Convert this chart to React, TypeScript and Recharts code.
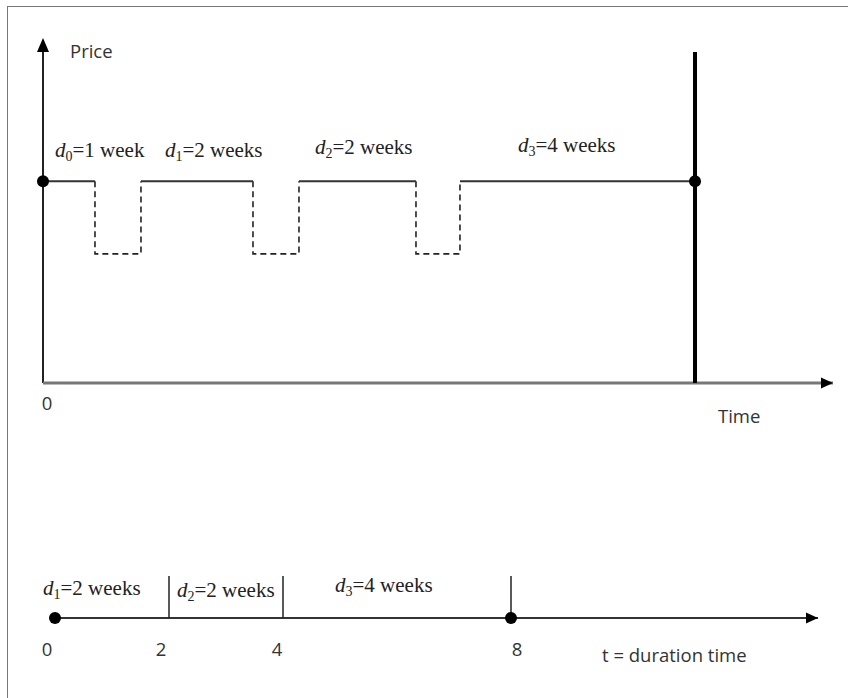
import React from 'react';
import { LineChart, Line, XAxis, YAxis, ReferenceLine, ReferenceDot } from 'recharts';

// ---------- Top panel: price path over time (weeks) ----------
const priceHigh = 100;
const priceLow = 64;
const priceAxisTop = 170;
const exitLineTop = 164;
const timeAxisEnd = 13.74;
const exitTime = 11.34;
// solid (high-price) periods: start / end in weeks
const periodStart = [0, 1.704, 4.452, 7.252];
const periodEnd = [0.904, 3.652, 6.487, exitTime];
const periodSub = ['0', '1', '2', '3'];
const periodText = ['=1 week', '=2 weeks', '=2 weeks', '=4 weeks'];

// ---------- Bottom panel: duration time ----------
const durTicks = [0, 2, 4, 8];
const durMarks = [2, 4, 8];
const durStart = [0, 2, 4];
const durSub = ['1', '2', '3'];
const durText = ['=2 weeks', '=2 weeks', '=4 weeks'];
const durAxisEnd = 13.386;

// build series from the arrays
const solidData: { t: number; p: number | null }[] = [];
periodStart.forEach((s, i) => {
  solidData.push({ t: s, p: priceHigh });
  solidData.push({ t: periodEnd[i], p: priceHigh });
  if (i < periodStart.length - 1) solidData.push({ t: (periodEnd[i] + periodStart[i + 1]) / 2, p: null });
});
const dashedData: { t: number; p: number | null }[] = [];
for (let i = 0; i < periodStart.length - 1; i++) {
  dashedData.push({ t: periodEnd[i], p: priceHigh });
  dashedData.push({ t: periodEnd[i], p: priceLow });
  dashedData.push({ t: periodStart[i + 1], p: priceLow });
  dashedData.push({ t: periodStart[i + 1], p: priceHigh });
  if (i < periodStart.length - 2) dashedData.push({ t: (periodStart[i + 1] + periodEnd[i + 1]) / 2, p: null });
}

// styles
const SERIF = '"Liberation Serif", "Times New Roman", serif';
const SANS = '"Open Sans", "Noto Sans", sans-serif';
const SANS_SIZE = 18.5;
const topLabelOffsets = [
  { dx: 12, dy: -24 },
  { dx: 24, dy: -24 },
  { dx: 16, dy: -27 },
  { dx: 58, dy: -29 },
];
const bottomLabelOffsets = [
  { dx: -12, dy: -23 },
  { dx: 8, dy: -21 },
  { dx: 52, dy: -26 },
];
const durTickDx: Record<number, number> = { 0: -8, 2: -8, 4: -6, 8: 6 };

const SubLabel = (cx: number, cy: number, sub: string, text: string) => (
  <text x={cx} y={cy} fontFamily={SERIF} fontSize={21} fill="#222">
    <tspan fontStyle="italic">d</tspan>
    <tspan fontSize={14} dy={4}>{sub}</tspan>
    <tspan dy={-4}>{text}</tspan>
  </text>
);

const UpArrow = (p: any) => (
  <polygon points={`${p.cx},${p.cy - 2} ${p.cx - 6},${p.cy + 12} ${p.cx + 6},${p.cy + 12}`} fill="#000" />
);
const RightArrow = (p: any) => (
  <polygon points={`${p.cx},${p.cy} ${p.cx - 12},${p.cy - 5.5} ${p.cx - 12},${p.cy + 5.5}`} fill="#000" />
);

export default function App() {
  return (
    <div style={{ position: 'absolute', left: 0, top: 0, width: 848, height: 698, overflow: 'hidden', background: '#fff' }}>
      <div style={{ position: 'absolute', left: 7, top: 6, width: 900, height: 800, border: '1px solid #777', boxSizing: 'border-box' }} />
      {/* top panel */}
      <div style={{ position: 'absolute', left: 0, top: 0 }}>
        <LineChart width={848} height={440} margin={{ top: 40, left: 43, right: 15, bottom: 27 }}>
          <XAxis
            type="number"
            dataKey="t"
            domain={[0, timeAxisEnd]}
            ticks={[0]}
            axisLine={false}
            tickLine={false}
            tickSize={0}
            tickMargin={0}
            height={30}
            allowDataOverflow
            tick={(p: any) => (
              <text x={p.x + 4} y={p.y + 27} textAnchor="middle" fontFamily={SANS} fontSize={SANS_SIZE} fill="#333">
                {p.payload.value}
              </text>
            )}
          />
          <YAxis type="number" domain={[0, priceAxisTop]} hide allowDataOverflow />
          {/* axes */}
          <ReferenceLine segment={[{ x: 0, y: 0 }, { x: 0, y: priceAxisTop }]} stroke="#222" strokeWidth={2} ifOverflow="visible" />
          <ReferenceLine segment={[{ x: 0, y: 0 }, { x: timeAxisEnd, y: 0 }]} stroke="#777" strokeWidth={3} ifOverflow="visible" />
          <ReferenceDot x={0} y={priceAxisTop} r={0} ifOverflow="visible" shape={UpArrow} />
          <ReferenceDot x={timeAxisEnd} y={0} r={0} ifOverflow="visible" shape={RightArrow} />
          {/* exit line */}
          <ReferenceLine segment={[{ x: exitTime, y: 0 }, { x: exitTime, y: exitLineTop }]} stroke="#000" strokeWidth={4} ifOverflow="visible" />
          <Line data={dashedData} dataKey="p" type="linear" stroke="#222" strokeWidth={1.6} strokeDasharray="6 4" dot={false} activeDot={false} connectNulls={false} isAnimationActive={false} />
          <Line data={solidData} dataKey="p" type="linear" stroke="#333" strokeWidth={2} dot={false} activeDot={false} connectNulls={false} isAnimationActive={false} />
          <ReferenceDot x={0} y={priceHigh} r={6} fill="#000" stroke="none" ifOverflow="visible" />
          <ReferenceDot x={exitTime} y={priceHigh} r={6} fill="#000" stroke="none" ifOverflow="visible" />
          {periodStart.map((s, i) => (
            <ReferenceDot
              key={'pl' + i}
              x={s}
              y={priceHigh}
              r={0}
              ifOverflow="visible"
              shape={(p: any) => SubLabel(p.cx + topLabelOffsets[i].dx, p.cy + topLabelOffsets[i].dy, periodSub[i], periodText[i])}
            />
          ))}
          <ReferenceDot
            x={0}
            y={priceAxisTop}
            r={0}
            ifOverflow="visible"
            shape={(p: any) => (
              <text x={p.cx + 27} y={p.cy + 18} fontFamily={SANS} fontSize={SANS_SIZE} fill="#333">Price</text>
            )}
          />
          <ReferenceDot
            x={timeAxisEnd}
            y={0}
            r={0}
            ifOverflow="visible"
            shape={(p: any) => (
              <text x={p.cx - 115} y={p.cy + 40} fontFamily={SANS} fontSize={SANS_SIZE} fill="#333">Time</text>
            )}
          />
        </LineChart>
      </div>
      {/* bottom panel */}
      <div style={{ position: 'absolute', left: 0, top: 440 }}>
        <LineChart width={848} height={258} margin={{ top: 136, left: 55, right: 30, bottom: 50 }}>
          <XAxis
            type="number"
            dataKey="t"
            domain={[0, durAxisEnd]}
            ticks={durTicks}
            axisLine={false}
            tickLine={false}
            tickSize={0}
            tickMargin={0}
            height={30}
            allowDataOverflow
            tick={(p: any) => (
              <text x={p.x + (durTickDx[p.payload.value] ?? 0)} y={p.y + 38} textAnchor="middle" fontFamily={SANS} fontSize={SANS_SIZE} fill="#333">
                {p.payload.value}
              </text>
            )}
          />
          <YAxis type="number" domain={[0, 1]} hide allowDataOverflow />
          <ReferenceLine segment={[{ x: 0, y: 0 }, { x: durAxisEnd, y: 0 }]} stroke="#333" strokeWidth={2} ifOverflow="visible" />
          <ReferenceDot x={durAxisEnd} y={0} r={0} ifOverflow="visible" shape={RightArrow} />
          {durMarks.map((m) => (
            <ReferenceLine key={'m' + m} segment={[{ x: m, y: 0 }, { x: m, y: 1 }]} stroke="#222" strokeWidth={1.5} ifOverflow="visible" />
          ))}
          <ReferenceDot x={0} y={0} r={6} fill="#000" stroke="none" ifOverflow="visible" />
          <ReferenceDot x={8} y={0} r={6} fill="#000" stroke="none" ifOverflow="visible" />
          {durStart.map((s, i) => (
            <ReferenceDot
              key={'dl' + i}
              x={s}
              y={0}
              r={0}
              ifOverflow="visible"
              shape={(p: any) => SubLabel(p.cx + bottomLabelOffsets[i].dx, p.cy + bottomLabelOffsets[i].dy, durSub[i], durText[i])}
            />
          ))}
          <ReferenceDot
            x={8}
            y={0}
            r={0}
            ifOverflow="visible"
            shape={(p: any) => (
              <text x={p.cx + 91} y={p.cy + 44} fontFamily={SANS} fontSize={SANS_SIZE} fill="#333">t = duration time</text>
            )}
          />
        </LineChart>
      </div>
    </div>
  );
}
